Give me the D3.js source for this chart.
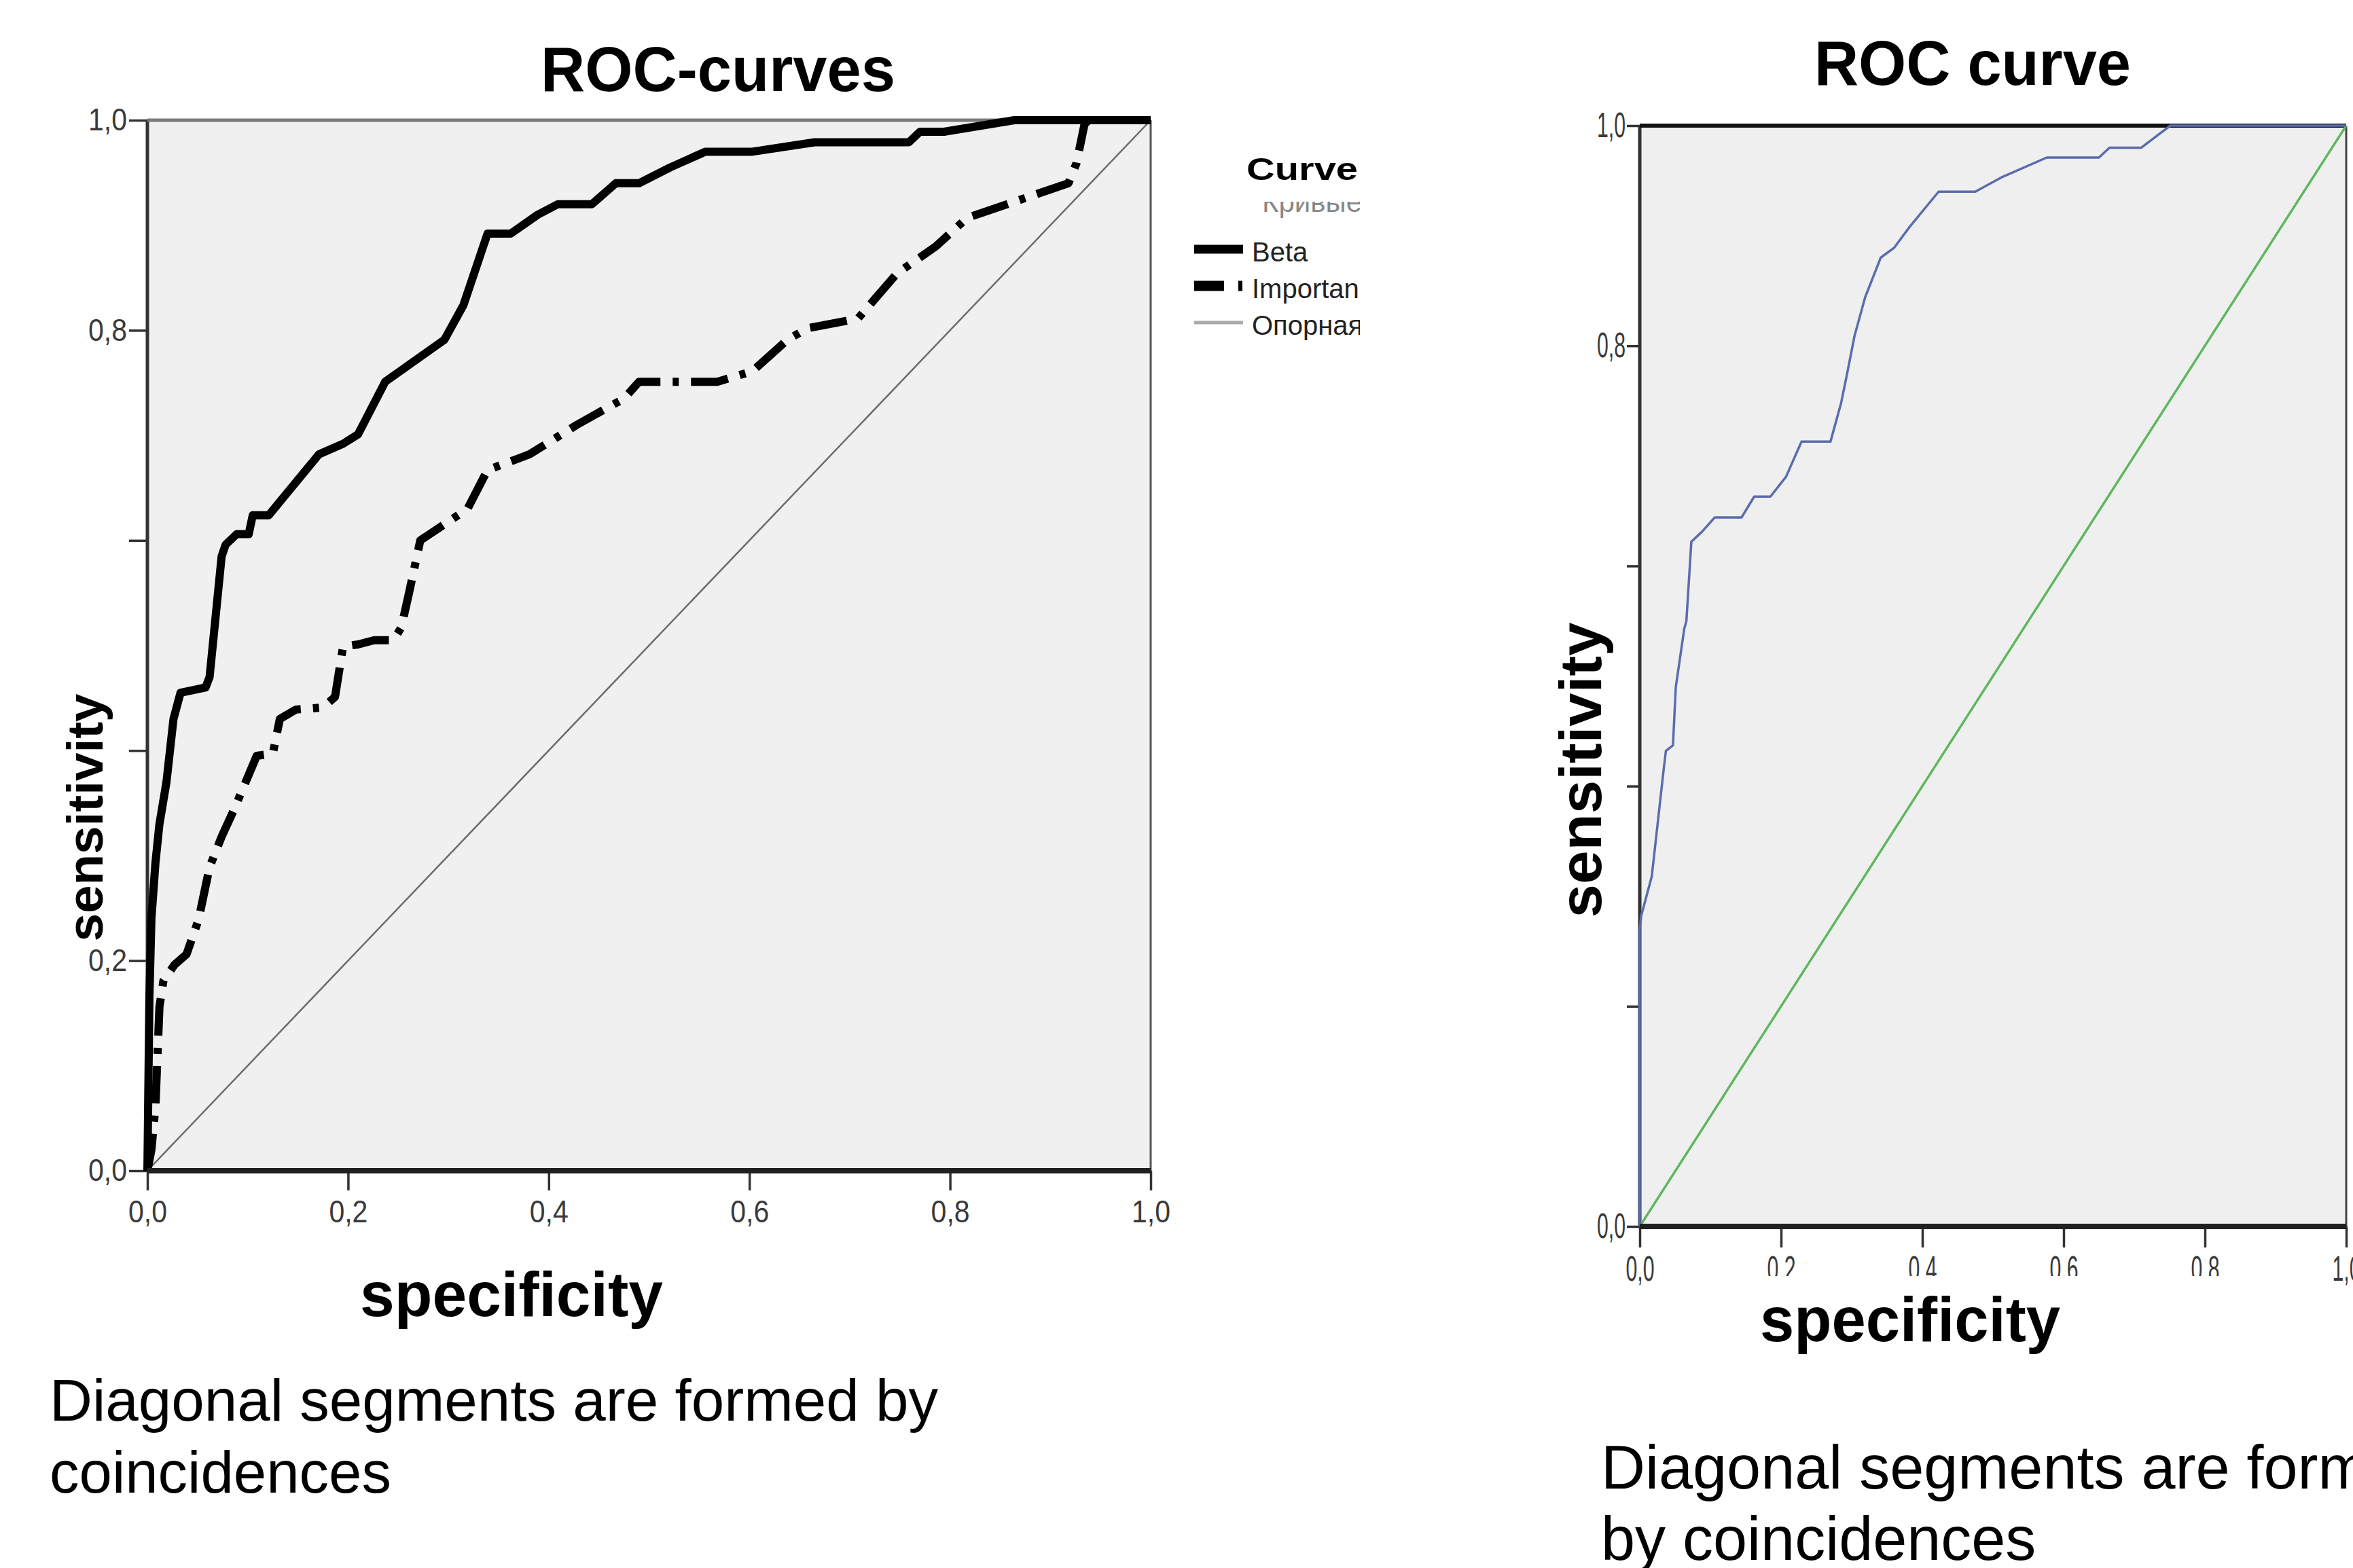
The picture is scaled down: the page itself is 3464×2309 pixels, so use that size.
<!DOCTYPE html>
<html>
<head>
<meta charset="utf-8">
<script src="https://cdn.jsdelivr.net/npm/d3@7"></script>
<style>
body { margin: 0; background: #fff; }
svg { display: block; }
</style>
</head>
<body>
<script>
//Picture size
var W = 3464, H = 2309;

//Left chart: x = 1 - specificity, y = sensitivity
var betaX = [0, 0.002, 0.004, 0.008, 0.012, 0.019, 0.026, 0.033, 0.058, 0.062, 0.074, 0.078, 0.089, 0.101, 0.105, 0.121,
    0.171, 0.195, 0.21, 0.237, 0.296, 0.315, 0.339, 0.362, 0.389, 0.409, 0.443, 0.467, 0.49, 0.521, 0.556, 0.603,
    0.665, 0.759, 0.77, 0.794, 0.864, 1];
var betaY = [0, 0.165, 0.24, 0.293, 0.33, 0.37, 0.43, 0.455, 0.46, 0.47, 0.585, 0.596, 0.606, 0.606, 0.624, 0.624,
    0.682, 0.692, 0.701, 0.751, 0.791, 0.824, 0.892, 0.892, 0.91, 0.92, 0.92, 0.94, 0.94, 0.955, 0.97, 0.97,
    0.979, 0.979, 0.989, 0.989, 1, 1];

var impX = [0, 0.004, 0.008, 0.012, 0.016, 0.027, 0.039, 0.051, 0.062, 0.074, 0.086, 0.109, 0.125, 0.132, 0.148,
    0.175, 0.187, 0.195, 0.21, 0.226, 0.245, 0.253, 0.261, 0.272, 0.319, 0.339, 0.381, 0.428, 0.475, 0.49, 0.568,
    0.603, 0.638, 0.658, 0.708, 0.747, 0.786, 0.817, 0.918, 0.926, 0.934, 0.938, 1];
var impY = [0, 0.02, 0.061, 0.156, 0.181, 0.196, 0.206, 0.239, 0.289, 0.318, 0.343, 0.395, 0.397, 0.43, 0.439,
    0.441, 0.451, 0.499, 0.501, 0.505, 0.505, 0.517, 0.551, 0.6, 0.63, 0.667, 0.682, 0.71, 0.735, 0.751, 0.751,
    0.761, 0.791, 0.802, 0.811, 0.854, 0.88, 0.907, 0.94, 0.959, 0.996, 1, 1];

//Right chart
var rocX = [0, 0, 0.002, 0.017, 0.034, 0.037, 0.047, 0.051, 0.063, 0.066, 0.073, 0.088, 0.106, 0.144, 0.162, 0.185,
    0.207, 0.229, 0.27, 0.285, 0.293, 0.304, 0.319, 0.341, 0.36, 0.382, 0.423, 0.475, 0.512, 0.576, 0.65, 0.665,
    0.71, 0.751, 1];
var rocY = [0, 0.27, 0.282, 0.318, 0.416, 0.432, 0.437, 0.49, 0.543, 0.55, 0.622, 0.631, 0.644, 0.644, 0.663, 0.663,
    0.681, 0.713, 0.713, 0.748, 0.773, 0.809, 0.844, 0.88, 0.889, 0.908, 0.94, 0.94, 0.953, 0.971, 0.971, 0.98,
    0.98, 1, 1];

//Reference diagonal
var refX = [0, 1];
var refY = [0, 1];

//Ticks
var tickValues = [0, 0.2, 0.4, 0.6, 0.8, 1];
var xLabels = ["0,0", "0,2", "0,4", "0,6", "0,8", "1,0"];
var leftYLabels = ["0,0", "0,2", "", "", "0,8", "1,0"];
var rightYLabels = ["0,0", "", "", "", "0,8", "1,0"];

//Legend
var legendTitle = "Curve";
var legendNames = ["Beta", "Importance", "Опорная линия"];

var FONT = "'Liberation Sans', Arial, sans-serif";

var svg = d3.select("body").append("svg")
    .attr("width", W)
    .attr("height", H);

function zip(xs, ys) {
    return xs.map(function(d, i) { return [d, ys[i]]; });
}

function edge(g, x1, y1, x2, y2, color, width) {
    g.append("line")
        .attr("x1", x1).attr("y1", y1).attr("x2", x2).attr("y2", y2)
        .attr("stroke", color).attr("stroke-width", width);
}

function drawPanel(p) {
    var x = d3.scaleLinear().domain([0, 1]).range([p.left, p.right]);
    var y = d3.scaleLinear().domain([0, 1]).range([p.bottom, p.top]);
    var g = svg.append("g");

    //plot area
    g.append("rect")
        .attr("x", p.left).attr("y", p.top)
        .attr("width", p.right - p.left).attr("height", p.bottom - p.top)
        .attr("fill", p.bg);
    edge(g, p.right, p.top, p.right, p.bottom, p.sideColor, 3);
    edge(g, p.left, p.top, p.left, p.bottom, "#333", 5);
    edge(g, p.left, p.top, p.right, p.top, p.topColor, p.topWidth);

    //axes
    var yAxis = d3.axisLeft(y)
        .tickValues(tickValues)
        .tickSize(p.yTick)
        .tickPadding(p.yPad)
        .tickFormat(function(d, i) { return p.yLabels[i]; });
    var xAxis = d3.axisBottom(x)
        .tickValues(tickValues)
        .tickSize(p.xTick)
        .tickPadding(p.xPad)
        .tickFormat(function(d, i) { return xLabels[i]; });

    var ya = g.append("g").attr("transform", "translate(" + p.left + ",0)").call(yAxis);
    var xa = g.append("g").attr("transform", "translate(0," + p.bottom + ")").call(xAxis);
    [ya, xa].forEach(function(a) {
        a.select(".domain").remove();
        a.selectAll("line").attr("stroke", "#333").attr("stroke-width", 3.5);
        a.selectAll("text")
            .attr("font-family", FONT)
            .attr("font-size", p.labelSize)
            .attr("fill", "#3a3a3a")
            .filter(function() { return this.textContent !== ""; })
            .attr("textLength", p.labelLen)
            .attr("lengthAdjust", "spacingAndGlyphs");
    });

    //curves
    var line = d3.line()
        .x(function(d) { return x(d[0]); })
        .y(function(d) { return y(d[1]); });

    p.series.forEach(function(s) {
        g.append("path")
            .datum(zip(s.xs, s.ys))
            .attr("d", line)
            .attr("fill", "none")
            .attr("stroke", s.color)
            .attr("stroke-width", s.width)
            .attr("stroke-dasharray", s.dash || null)
            .attr("stroke-linejoin", "round");
    });

    edge(g, p.left, p.bottom, p.right, p.bottom, "#202020", 8);

    return g;
}

function label(txt, x, y, size, weight, len, anchor, rotate) {
    var t = svg.append("text")
        .attr("font-family", FONT)
        .attr("font-size", size)
        .attr("font-weight", weight)
        .attr("fill", "#000")
        .attr("text-anchor", anchor || "start")
        .text(txt);
    if (rotate) {
        t.attr("transform", "translate(" + x + "," + y + ") rotate(-90)");
    } else {
        t.attr("x", x).attr("y", y);
    }
    if (len) t.attr("textLength", len).attr("lengthAdjust", "spacingAndGlyphs");
    return t;
}

//Left chart
drawPanel({
    left: 217, right: 1694, top: 177, bottom: 1724,
    bg: "#f0f0f0", sideColor: "#555", topColor: "#7a7a7a", topWidth: 5,
    yTick: 27, yPad: 3, xTick: 29, xPad: 14,
    labelSize: 46, labelLen: 57,
    yLabels: leftYLabels,
    series: [
        {xs: refX, ys: refY, color: "#6b6b6b", width: 2.5},
        {xs: impX, ys: impY, color: "#000", width: 12, dash: "55,18,9,18"},
        {xs: betaX, ys: betaY, color: "#000", width: 12}
    ]
});

//Right chart
drawPanel({
    left: 2414, right: 3454, top: 185, bottom: 1806,
    bg: "#efefef", sideColor: "#444", topColor: "#111", topWidth: 6,
    yTick: 19, yPad: 2, xTick: 31, xPad: 13,
    labelSize: 51, labelLen: 42,
    yLabels: rightYLabels,
    series: [
        {xs: refX, ys: refY, color: "#5fb65f", width: 3.5},
        {xs: rocX, ys: rocY, color: "#5a6cad", width: 3.5}
    ]
});

//right x labels are cut in the original
svg.append("rect")
    .attr("x", 2540).attr("y", 1879)
    .attr("width", 840).attr("height", 40)
    .attr("fill", "#fff");

//Legend of the left chart, cut on the right side
svg.append("clipPath").attr("id", "legclip")
    .append("rect").attr("x", 1740).attr("y", 200).attr("width", 262).attr("height", 320);

var leg = svg.append("g").attr("clip-path", "url(#legclip)");
leg.append("text")
    .attr("x", 1858).attr("y", 312)
    .attr("font-family", FONT)
    .attr("font-size", 42)
    .attr("fill", "#888")
    .text("Кривые");
leg.append("rect")
    .attr("x", 1740).attr("y", 220).attr("width", 262).attr("height", 77)
    .attr("fill", "#fff");
leg.append("text")
    .attr("x", 1835).attr("y", 265)
    .attr("font-family", FONT)
    .attr("font-size", 46)
    .attr("font-weight", "bold")
    .attr("fill", "#000")
    .attr("textLength", 164)
    .attr("lengthAdjust", "spacingAndGlyphs")
    .text(legendTitle);

var legStyle = [
    {color: "#000", width: 13, dash: null},
    {color: "#000", width: 15, dash: "44,21,6,40"},
    {color: "#aaa", width: 5, dash: null}
];
var legY = d3.scalePoint().domain(legendNames).range([367, 475]);

legendNames.forEach(function(name, i) {
    leg.append("line")
        .attr("x1", 1758).attr("x2", 1830)
        .attr("y1", legY(name)).attr("y2", legY(name))
        .attr("stroke", legStyle[i].color)
        .attr("stroke-width", legStyle[i].width)
        .attr("stroke-dasharray", legStyle[i].dash);
    leg.append("text")
        .attr("x", 1843).attr("y", legY(name) + 18)
        .attr("font-family", FONT)
        .attr("font-size", 40)
        .attr("fill", "#222")
        .text(name);
});

//Titles and axis names
label("ROC-curves", 1057, 134, 92, "bold", 522, "middle");
label("ROC curve", 2904, 125, 92, "bold", 466, "middle");
label("specificity", 530, 1938, 92, "bold", 446);
label("specificity", 2591, 1975, 92, "bold", 442);
label("sensitivity", 151, 1204, 74, "bold", 365, "middle", true);
label("sensitivity", 2357, 1134, 88, "bold", 435, "middle", true);

//Footnotes
label("Diagonal segments are formed by", 73, 2092, 87, "normal", 1308);
label("coincidences", 73, 2198, 87, "normal");
label("Diagonal segments are formed", 2357, 2192, 90, "normal");
label("by coincidences", 2357, 2297, 90, "normal");
</script>
</body>
</html>
